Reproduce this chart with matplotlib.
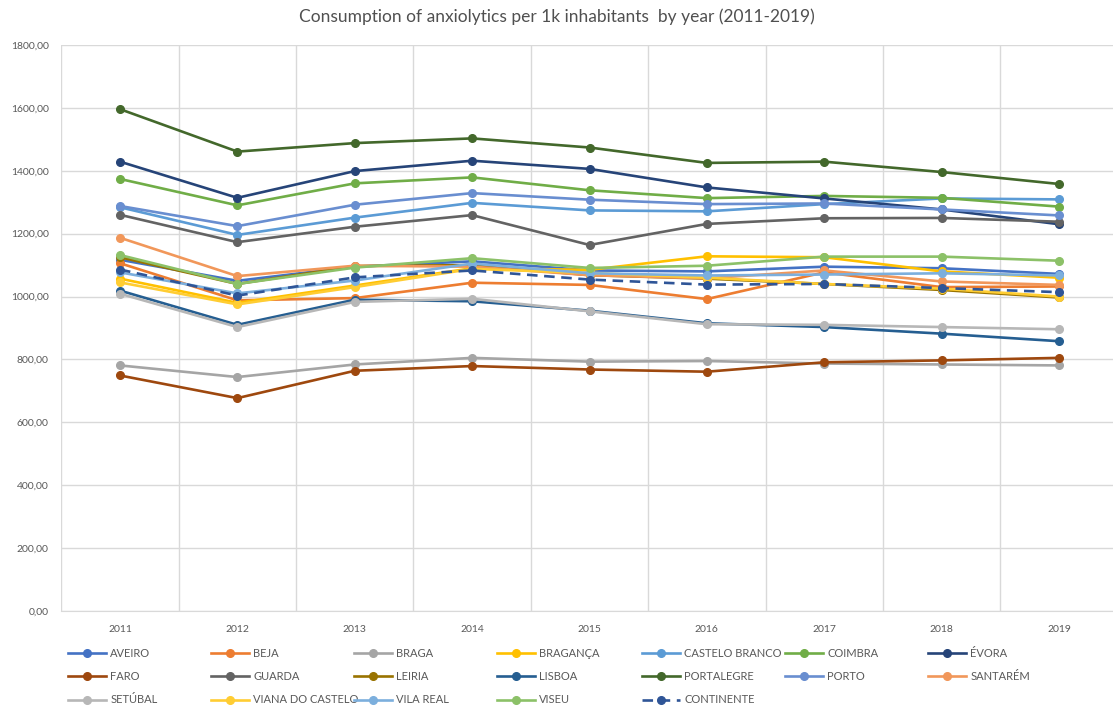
import matplotlib.pyplot as plt
from matplotlib.ticker import FuncFormatter, MultipleLocator

plt.rcParams['font.family'] = ['Lato', 'DejaVu Sans']

years = ['2011', '2012', '2013', '2014', '2015', '2016', '2017', '2018', '2019']

# consumption per 1k inhabitants, one list per district
aveiro = [1117, 1050, 1095, 1112, 1083, 1080, 1095, 1090, 1072]
beja = [1106, 988, 995, 1044, 1037, 992, 1077, 1030, 1032]
braga = [781, 744, 784, 805, 793, 795, 787, 784, 781]
braganca = [1057, 980, 1035, 1090, 1085, 1128, 1125, 1080, 1060]
castelo_branco = [1284, 1196, 1251, 1298, 1274, 1271, 1294, 1312, 1309]
coimbra = [1374, 1290, 1360, 1379, 1338, 1313, 1320, 1314, 1286]
evora = [1429, 1314, 1399, 1432, 1406, 1347, 1312, 1277, 1230]
faro = [749, 677, 764, 779, 768, 761, 791, 797, 805]
guarda = [1260, 1173, 1222, 1259, 1164, 1231, 1249, 1250, 1238]
leiria = [1125, 1040, 1097, 1100, 1068, 1057, 1040, 1021, 997]
lisboa = [1019, 910, 990, 985, 955, 915, 903, 882, 858]
portalegre = [1596, 1461, 1488, 1503, 1474, 1425, 1429, 1396, 1358]
porto = [1288, 1224, 1292, 1329, 1308, 1294, 1296, 1277, 1258]
santarem = [1187, 1065, 1098, 1095, 1068, 1058, 1083, 1048, 1037]
setubal = [1009, 903, 983, 993, 953, 912, 910, 903, 896]
viana = [1045, 975, 1030, 1088, 1075, 1060, 1040, 1025, 1000]
vila_real = [1077, 1010, 1051, 1105, 1074, 1067, 1070, 1074, 1067]
viseu = [1132, 1040, 1092, 1122, 1091, 1098, 1127, 1127, 1114]
continente = [1086, 1003, 1061, 1083, 1054, 1038, 1040, 1027, 1014]

series = [
    ('AVEIRO', aveiro, '#4472C4'),
    ('BEJA', beja, '#ED7D31'),
    ('BRAGA', braga, '#A5A5A5'),
    ('BRAGANÇA', braganca, '#FFC000'),
    ('CASTELO BRANCO', castelo_branco, '#5B9BD5'),
    ('COIMBRA', coimbra, '#70AD47'),
    ('ÉVORA', evora, '#264478'),
    ('FARO', faro, '#9E480E'),
    ('GUARDA', guarda, '#636363'),
    ('LEIRIA', leiria, '#997300'),
    ('LISBOA', lisboa, '#255E91'),
    ('PORTALEGRE', portalegre, '#43682B'),
    ('PORTO', porto, '#698ED0'),
    ('SANTARÉM', santarem, '#F1975A'),
    ('SETÚBAL', setubal, '#B7B7B7'),
    ('VIANA DO CASTELO', viana, '#FFCD33'),
    ('VILA REAL', vila_real, '#7CAFDD'),
    ('VISEU', viseu, '#8CC168'),
]

W, H = 1113, 713
fig = plt.figure(figsize=(W / 100, H / 100), dpi=100)
ax = fig.add_axes([61.3 / W, 1 - 611 / H, 1056.4 / W, 566 / H])

x = list(range(len(years)))
handles = []
for name, vals, col in series:
    h, = ax.plot(x, vals, color=col, lw=1.9, marker='o', ms=5.5, label=name)
    handles.append(h)
h, = ax.plot(x, continente, color='#2F5597', lw=1.9, ls=(0, (4, 2.5)),
             marker='o', ms=5.5, label='CONTINENTE')
handles.append(h)

ax.set_xlim(-0.5, len(years) - 0.5)
ax.set_ylim(0, 1800)
ax.yaxis.set_major_locator(MultipleLocator(200))
ax.yaxis.set_major_formatter(FuncFormatter(lambda v, p: f'{v:.2f}'.replace('.', ',')))
ax.set_xticks(x)
ax.set_xticklabels(years)
ax.set_xticks([i + 0.5 for i in range(-1, len(years))], minor=True)

ax.grid(True, which='major', axis='y', color='#D9D9D9', lw=1)
ax.grid(True, which='minor', axis='x', color='#D9D9D9', lw=1)
ax.set_axisbelow(True)
for s in ['top', 'right', 'left']:
    ax.spines[s].set_visible(False)
ax.spines['bottom'].set_color('#D9D9D9')
ax.tick_params(axis='both', which='both', length=0, labelsize=7.5, labelcolor='#595959')
ax.tick_params(axis='x', pad=10)
ax.tick_params(axis='y', pad=9)

fig.text(0.5, 1 - 17 / H, 'Consumption of anxiolytics per 1k inhabitants  by year (2011-2019)',
         ha='center', va='center', fontsize=12.5, color='#505050')

# legend laid out row by row in seven fixed columns
col_x = [68, 211, 354, 497, 642, 785, 928]
for c in range(7):
    col_handles = handles[c::7]
    fig.legend(handles=col_handles, loc='upper left',
               bbox_to_anchor=(col_x[c] / W, 1 - 648 / H), frameon=False,
               fontsize=8, labelcolor='#595959', handlelength=3.4,
               handletextpad=0.4, labelspacing=1.1, borderpad=0, borderaxespad=0)

fig.savefig('out.png', dpi=100)
